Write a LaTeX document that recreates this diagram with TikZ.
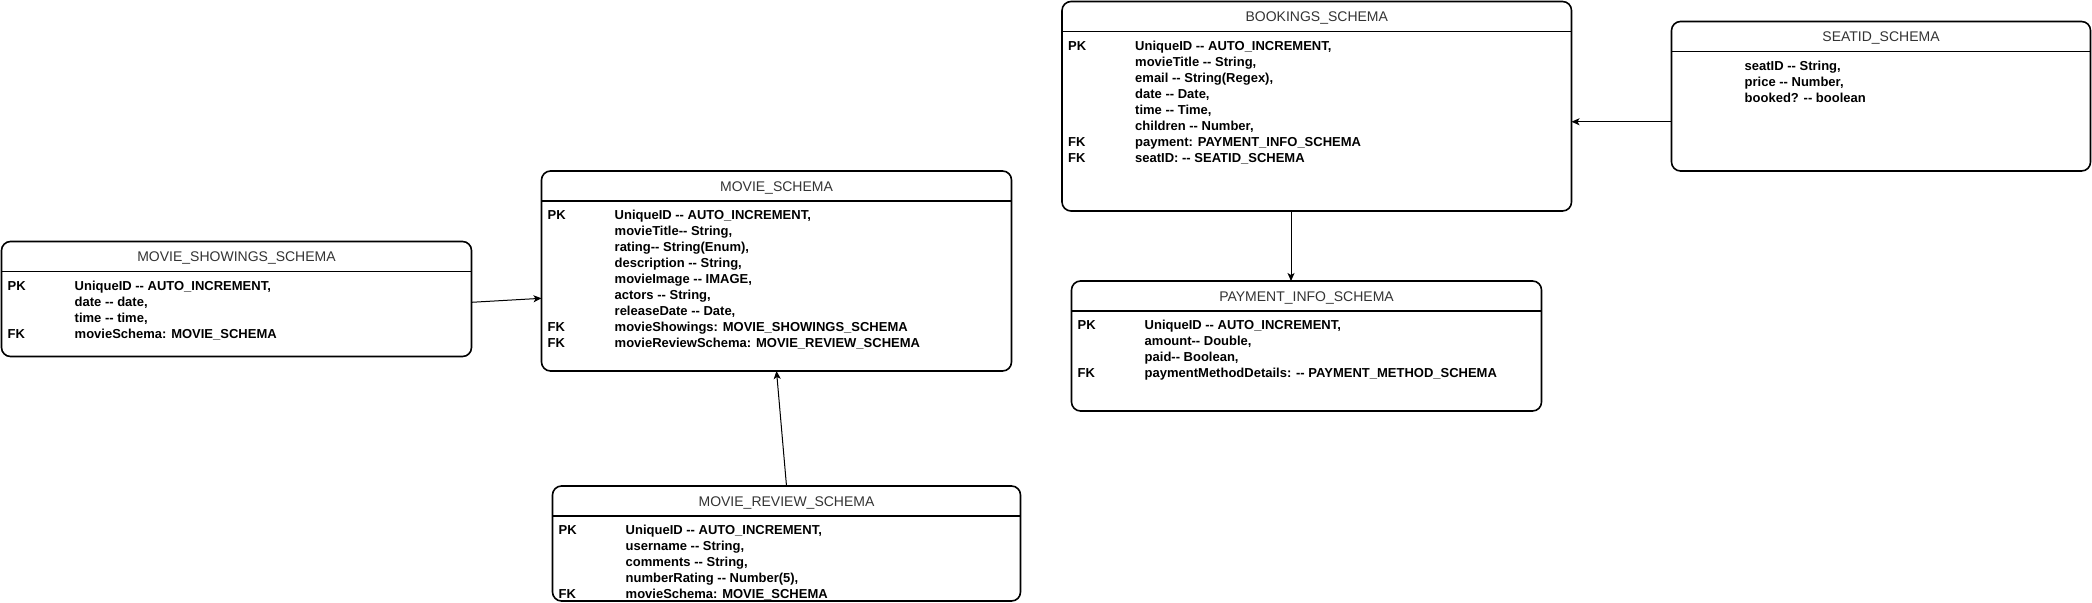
\documentclass[tikz,border=0pt]{standalone}
\usepackage{fontspec}
\setmainfont{Liberation Sans}[Ligatures=TeXOff]
\usetikzlibrary{arrows.meta,calc,positioning}
\definecolor{titlegray}{RGB}{51,51,51}
\begin{document}
\begin{tikzpicture}[x=1pt,y=-1pt,
  schema/.style={draw,line width=1.6pt,rounded corners=9pt,anchor=north west,inner sep=0pt,outer sep=0pt},
  head/.style={font=\fontsize{14}{16}\selectfont,text=titlegray,inner sep=0pt},
  rows/.style={anchor=north west,inner sep=0pt,font=\fontsize{13}{16}\selectfont\bfseries},
  link/.style={line width=1pt,-{Stealth[length=8pt,width=7pt,inset=2pt]}}]
\useasboundingbox (0,0) rectangle (2092,602);

\node[schema,minimum width=470pt,minimum height=115pt] (showings) at (1.5,241.5) {};
\node[schema,minimum width=470pt,minimum height=200pt] (movie) at (541.5,171) {};
\node[schema,minimum width=468pt,minimum height=115pt] (review) at (552.5,486) {};
\node[schema,minimum width=509.5pt,minimum height=209.5pt] (bookings) at (1062,1.5) {};
\node[schema,minimum width=470pt,minimum height=130pt] (payment) at (1071.5,281) {};
\node[schema,minimum width=419pt,minimum height=149.5pt] (seat) at (1671.5,21.5) {};

\foreach \b/\t in {showings/MOVIE\_SHOWINGS\_SCHEMA, movie/MOVIE\_SCHEMA, review/MOVIE\_REVIEW\_SCHEMA,
    bookings/BOOKINGS\_SCHEMA, payment/PAYMENT\_INFO\_SCHEMA, seat/SEATID\_SCHEMA} {
  \draw[line width=1.6pt] ($(\b.north west)+(0,30)$) -- ($(\b.north east)+(0,30)$);
  \node[head] (\b title) at ($(\b.north)+(0,17)$) {\t};
}

\node[rows] (showingsrows) at ($(showings.north west)+(6,37.5)$) {\begin{tabular}{@{}p{67pt}@{}l@{}}
  PK & UniqueID -- AUTO\_INCREMENT,\\
     & date -- date,\\
     & time -- time,\\
  FK & movieSchema: MOVIE\_SCHEMA
\end{tabular}};
\node[rows] (movierows) at ($(movie.north west)+(6,37.5)$) {\begin{tabular}{@{}p{67pt}@{}l@{}}
  PK & UniqueID -- AUTO\_INCREMENT,\\
     & movieTitle-- String,\\
     & rating-- String(Enum),\\
     & description -- String,\\
     & movieImage -- IMAGE,\\
     & actors -- String,\\
     & releaseDate -- Date,\\
  FK & movieShowings: MOVIE\_SHOWINGS\_SCHEMA\\
  FK & movieReviewSchema: MOVIE\_REVIEW\_SCHEMA
\end{tabular}};
\node[rows] (reviewrows) at ($(review.north west)+(6,37.5)$) {\begin{tabular}{@{}p{67pt}@{}l@{}}
  PK & UniqueID -- AUTO\_INCREMENT,\\
     & username -- String,\\
     & comments -- String,\\
     & numberRating -- Number(5),\\
  FK & movieSchema: MOVIE\_SCHEMA
\end{tabular}};
\node[rows] (bookingsrows) at ($(bookings.north west)+(6,37.5)$) {\begin{tabular}{@{}p{67pt}@{}l@{}}
  PK & UniqueID -- AUTO\_INCREMENT,\\
     & movieTitle -- String,\\
     & email -- String(Regex),\\
     & date -- Date,\\
     & time -- Time,\\
     & children -- Number,\\
  FK & payment: PAYMENT\_INFO\_SCHEMA\\
  FK & seatID: -- SEATID\_SCHEMA
\end{tabular}};
\node[rows] (paymentrows) at ($(payment.north west)+(6,37.5)$) {\begin{tabular}{@{}p{67pt}@{}l@{}}
  PK & UniqueID -- AUTO\_INCREMENT,\\
     & amount-- Double,\\
     & paid-- Boolean,\\
  FK & paymentMethodDetails: -- PAYMENT\_METHOD\_SCHEMA
\end{tabular}};
\node[rows] (seatrows) at ($(seat.north west)+(73,37.5)$) {\begin{tabular}{@{}l@{}}
  seatID -- String,\\
  price -- Number,\\
  booked? -- boolean
\end{tabular}};

\draw[link] ($(showings.east)+(0,3.3)$) -- ($(movie.west)+(0,27.3)$);
\draw[link] (review.north) -- (movie.south);
\coordinate (paytop) at ($(bookings.south)+(-25.75,0)$);
\draw[link] (paytop) -- (paytop |- payment.north);
\coordinate (seatleft) at ($(seat.west)+(0,25.5)$);
\draw[link] (seatleft) -- (seatleft -| bookings.east);
\end{tikzpicture}
\end{document}
